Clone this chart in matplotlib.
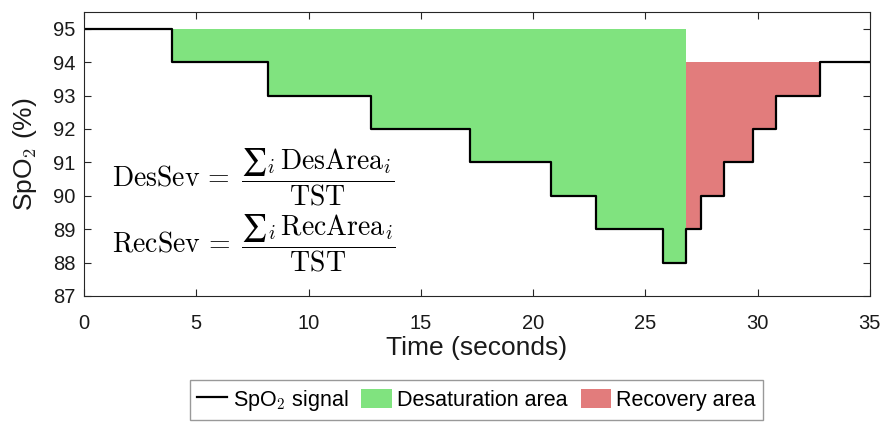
import numpy as np
import matplotlib.pyplot as plt
from matplotlib.patches import Patch
from matplotlib.lines import Line2D

plt.rcParams['font.family'] = ['Liberation Sans', 'DejaVu Sans']
plt.rcParams['mathtext.fontset'] = 'cm'

# SpO2 step signal: change times (s) and the level held from each time
t_change = [0, 3.9, 8.2, 12.8, 17.2, 20.8, 22.8, 25.8, 26.8, 27.5, 28.5, 29.8, 30.8, 32.8]
spo2 = [95, 94, 93, 92, 91, 90, 89, 88, 89, 90, 91, 92, 93, 94]
t_end = 35

baseline_des = 95   # pre-event level
baseline_rec = 94   # post-event level
t_nadir_end = 26.8  # end of desaturation / start of recovery
t_rec_end = 32.8

green = '#80e37f'
red = '#e27c7c'
edge = '#262626'

t = np.array(t_change + [t_end])
s = np.array(spo2 + [spo2[-1]])

fig = plt.figure(figsize=(8.8, 4.22), dpi=100)
ax = fig.add_axes([0.0955, 0.2986, 0.893, 0.673])

des = (t <= t_nadir_end)
ax.fill_between(t[des], s[des], baseline_des, step='post', color=green, lw=0)
rec = (t >= t_nadir_end) & (t <= t_rec_end)
ax.fill_between(t[rec], s[rec], baseline_rec, step='post', color=red, lw=0)
ax.step(t, s, where='post', color='black', lw=1.6)

ax.set_xlim(0, 35)
ax.set_ylim(87, 95.5)
ax.set_xticks(range(0, 36, 5))
ax.set_yticks(range(87, 96))
ax.tick_params(direction='in', top=True, right=True, length=5, width=0.8,
               labelsize=14.5, colors=edge, labelcolor='#1a1a1a')
ax.tick_params(axis='x', pad=13)
ax.tick_params(axis='y', pad=6)
for sp in ax.spines.values():
    sp.set_color(edge)
    sp.set_linewidth(0.8)

ax.set_xlabel('Time (seconds)', fontsize=19, labelpad=2, color='#1a1a1a')
ax.set_ylabel('SpO$_2$ (%)', fontsize=19, labelpad=10, color='#1a1a1a')

ax.text(0.035, 0.384, r'$\mathrm{DesSev}\,=\;\dfrac{∑_i\,\mathrm{DesArea}_i}{\mathrm{TST}}$',
        transform=ax.transAxes, fontsize=20, va='baseline', ha='left')
ax.text(0.035, 0.151, r'$\mathrm{RecSev}\,=\;\dfrac{∑_i\,\mathrm{RecArea}_i}{\mathrm{TST}}$',
        transform=ax.transAxes, fontsize=20, va='baseline', ha='left')

handles = [Line2D([], [], color='black', lw=1.6),
           Patch(facecolor=green, edgecolor='none'),
           Patch(facecolor=red, edgecolor='none')]
labels = ['SpO$_2$ signal', 'Desaturation area', 'Recovery area']
leg = fig.legend(handles, labels, loc='center', bbox_to_anchor=(0.5415, 0.052),
                 ncol=3, fontsize=15.5, frameon=True, fancybox=False,
                 handlelength=1.4, handleheight=1.0, handletextpad=0.26,
                 columnspacing=0.6, borderpad=0.33, borderaxespad=0)
leg.get_frame().set_edgecolor('#808080')
leg.get_frame().set_linewidth(1.0)

fig.savefig('out.png', dpi=100)
